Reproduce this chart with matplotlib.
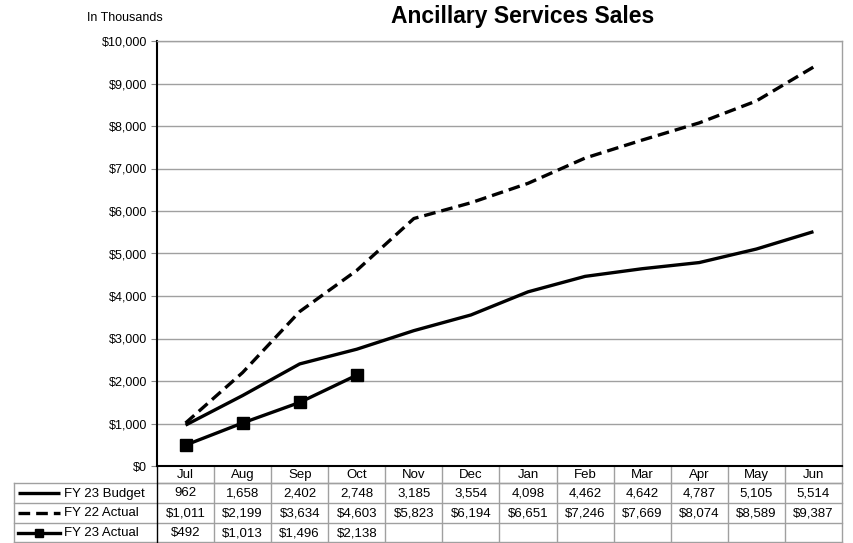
import matplotlib
matplotlib.use("Agg")
import matplotlib.pyplot as plt
import matplotlib.transforms as mtransforms
from matplotlib.ticker import FuncFormatter

plt.rcParams['font.family'] = ['Liberation Sans', 'DejaVu Sans']

months = ['Jul', 'Aug', 'Sep', 'Oct', 'Nov', 'Dec', 'Jan', 'Feb', 'Mar', 'Apr', 'May', 'Jun']
budget_fy23 = [962, 1658, 2402, 2748, 3185, 3554, 4098, 4462, 4642, 4787, 5105, 5514]
actual_fy22 = [1011, 2199, 3634, 4603, 5823, 6194, 6651, 7246, 7669, 8074, 8589, 9387]
actual_fy23 = [492, 1013, 1496, 2138]

series_names = ['FY 23 Budget', 'FY 22 Actual', 'FY 23 Actual']

W, H = 854, 543
fig = plt.figure(figsize=(W / 100, H / 100), dpi=100)

# plot area in pixels
L, R, T, B = 157, 842, 41, 466
ax = fig.add_axes([L / W, 1 - B / H, (R - L) / W, (B - T) / H])

xs = [i + 0.5 for i in range(len(months))]
lw = 2.4
budget_style = dict(color='black', lw=lw, solid_capstyle='butt')
fy22_style = dict(color='black', lw=lw, ls=(0, (3.5, 1.8)), dash_capstyle='butt')
fy23_style = dict(color='black', lw=lw, marker='s', markersize=8.5)

ax.plot(xs, actual_fy22, **fy22_style)
ax.plot(xs, budget_fy23, **budget_style)
ax.plot(xs[:len(actual_fy23)], actual_fy23, **fy23_style)

ax.set_xlim(0, 12)
ax.set_ylim(0, 10000)
ax.set_yticks(range(0, 10001, 1000))
ax.yaxis.set_major_formatter(FuncFormatter(lambda v, p: '${:,.0f}'.format(v)))
ax.set_xticks([])
ax.tick_params(axis='y', length=4, width=0.8, color='#888888', labelsize=9, pad=3)
ax.grid(axis='y', color='#a0a0a0', lw=1)
ax.set_axisbelow(True)
for s in ['top', 'right']:
    ax.spines[s].set_color('#a0a0a0')
    ax.spines[s].set_linewidth(1)
for s in ['left', 'bottom']:
    ax.spines[s].set_color('black')
    ax.spines[s].set_linewidth(1.5)

fig.text(523 / W, 1 - 17 / H, 'Ancillary Services Sales', ha='center', va='center',
         fontsize=16.5, fontweight='bold')
fig.text(125 / W, 1 - 18 / H, 'In Thousands', ha='center', va='center', fontsize=9)

# data table under the chart, y in pixels
tab = fig.add_axes([0, 0, 1, 1], zorder=-1)
tab.set_xlim(0, W)
tab.set_ylim(H, 0)
tab.axis('off')
mixed = mtransforms.blended_transform_factory(ax.transData, tab.transData)

row_edges = [466, 483, 503, 523, 542]
grid_c = '#a0a0a0'
tab_left = 14
fs = 9.5

# month header
for x, m in zip(xs, months):
    tab.text(x, (row_edges[0] + row_edges[1]) / 2 + 0.5, m, transform=mixed,
             ha='center', va='center', fontsize=fs)

rows = [
    [f'{v:,}' for v in budget_fy23],
    [f'${v:,}' for v in actual_fy22],
    [f'${v:,}' for v in actual_fy23],
]
for r, vals in enumerate(rows):
    yc = (row_edges[r + 1] + row_edges[r + 2]) / 2 + 0.5
    for x, s in zip(xs, vals):
        tab.text(x, yc, s, transform=mixed, ha='center', va='center', fontsize=fs)

# horizontal rules
tab.plot([L, R], [row_edges[1]] * 2, color=grid_c, lw=1)
for y in row_edges[1:]:
    tab.plot([tab_left, R], [y, y], color=grid_c, lw=1)
# vertical rules
for i in range(1, 13):
    tab.plot([i, i], [row_edges[0], row_edges[-1]], transform=mixed, color=grid_c, lw=1)
tab.plot([tab_left, tab_left], [row_edges[1], row_edges[-1]], color=grid_c, lw=1)
tab.plot([L, L], [row_edges[0], row_edges[-1]], color='black', lw=1)

# legend keys in the first column
styles = [budget_style, fy22_style, dict(fy23_style, markersize=6)]
for r, (name, st) in enumerate(zip(series_names, styles)):
    yc = (row_edges[r + 1] + row_edges[r + 2]) / 2
    if 'marker' in st:
        tab.plot([18, 39, 60], [yc] * 3, markevery=[1], **st)
    else:
        tab.plot([18, 60], [yc, yc], **st)
    tab.text(64, yc + 0.5, name, ha='left', va='center', fontsize=fs)

fig.savefig('out.png', dpi=100)
